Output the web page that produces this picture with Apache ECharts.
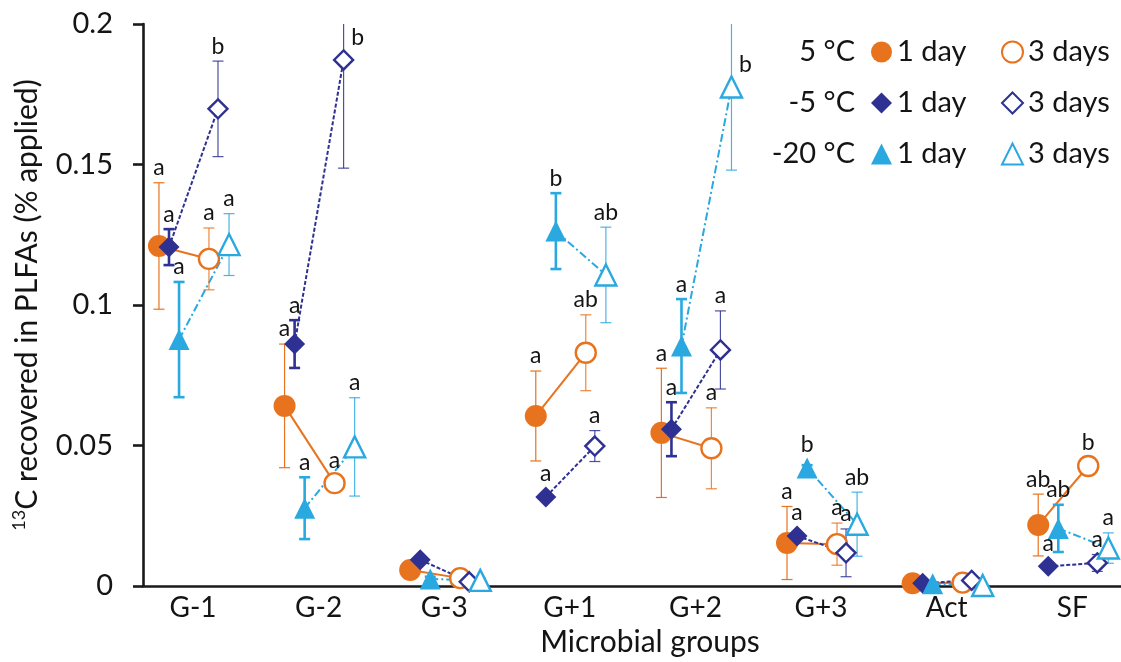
<!DOCTYPE html>
<html>
<head>
<meta charset="utf-8">
<script src="https://cdn.jsdelivr.net/npm/echarts@6/dist/echarts.min.js"></script>
<style>
html,body{margin:0;padding:0;background:#fff;}
#chart{width:1121px;height:662px;}
</style>
</head>
<body>
<div id="chart"></div>
<script>
// ---------------- data ----------------
const categories = ['G-1', 'G-2', 'G-3', 'G+1', 'G+2', 'G+3', 'Act', 'SF'];
const yTickStep = 0.05;
const yMax = 0.2;

// means (13C recovered in PLFAs, % applied)
const c5Day1  = [0.1210, 0.0641, 0.0057, 0.0605, 0.0545, 0.0153, 0.0010, 0.0217];
const c5Day3  = [0.1164, 0.0366, 0.0028, 0.0830, 0.0490, 0.0149, 0.0012, 0.0427];
const m5Day1  = [0.1206, 0.0861, 0.0093, 0.0317, 0.0558, 0.0178, 0.0010, 0.0070];
const m5Day3  = [0.1698, 0.1872, 0.0015, 0.0498, 0.0840, 0.0118, 0.0020, 0.0082];
const m20Day1 = [0.0877, 0.0277, 0.0025, 0.1263, 0.0854, 0.0420, 0.0008, 0.0205];
const m20Day3 = [0.1215, 0.0495, 0.0020, 0.1107, 0.1776, 0.0220, 0.0002, 0.0135];

// error bar half-widths
const c5Day1Err  = [0.0225, 0.0220, 0.0008, 0.0160, 0.0230, 0.0130, 0.0005, 0.0110];
const c5Day3Err  = [0.0110, 0.0020, 0.0008, 0.0135, 0.0144, 0.0075, 0.0005, 0.0015];
const m5Day1Err  = [0.0064, 0.0085, 0.0008, 0.0010, 0.0096, 0.0010, 0.0005, 0.0010];
const m5Day3Err  = [0.0170, 0.0385, 0.0008, 0.0055, 0.0139, 0.0085, 0.0005, 0.0030];
const m20Day1Err = [0.0205, 0.0110, 0.0008, 0.0135, 0.0167, 0.0010, 0.0005, 0.0084];
const m20Day3Err = [0.0110, 0.0175, 0.0008, 0.0170, 0.0296, 0.0114, 0.0005, 0.0054];

// significance letters
const c5Day1Sig  = ['a', 'a', '', 'a',  'a', 'a',  '', 'ab'];
const c5Day3Sig  = ['a', 'a', '', 'ab', 'a', 'a',  '', 'b'];
const m5Day1Sig  = ['a', 'a', '', 'a',  'a', 'a',  '', 'a'];
const m5Day3Sig  = ['b', 'b', '', 'a',  'a', 'a',  '', 'a'];
const m20Day1Sig = ['a', 'a', '', 'b',  'a', 'b',  '', 'ab'];
const m20Day3Sig = ['a', 'a', '', 'ab', 'b', 'ab', '', 'a'];

const temperatures = ['5 °C', '-5 °C', '-20 °C'];
const days = ['1 day', '3 days'];

// ---------------- style / layout ----------------
const ORANGE = '#E8731F', NAVY = '#2E3192', BLUE = '#2AA8E0';
const FONT = 'Lato';
const TXT = '#141414';

const groups = [
  {temp: 0, day: 0, mean: c5Day1,  err: c5Day1Err,  sig: c5Day1Sig,  color: ORANGE, symbol: 'circle',   size: 22, filled: true,  off: -0.271, barW: 1.2},
  {temp: 0, day: 1, mean: c5Day3,  err: c5Day3Err,  sig: c5Day3Sig,  color: ORANGE, symbol: 'circle',   size: 20, filled: false, off: 0.127,  barW: 1.2},
  {temp: 1, day: 0, mean: m5Day1,  err: m5Day1Err,  sig: m5Day1Sig,  color: NAVY,   symbol: 'diamond',  size: 21, filled: true,  off: -0.191, barW: 2.6},
  {temp: 1, day: 1, mean: m5Day3,  err: m5Day3Err,  sig: m5Day3Sig,  color: NAVY,   symbol: 'diamond',  size: 19, filled: false, off: 0.199,  barW: 1.2},
  {temp: 2, day: 0, mean: m20Day1, err: m20Day1Err, sig: m20Day1Sig, color: BLUE,   symbol: 'triangle', size: 21, filled: true,  off: -0.111, barW: 2.6},
  {temp: 2, day: 1, mean: m20Day3, err: m20Day3Err, sig: m20Day3Sig, color: BLUE,   symbol: 'triangle', size: 21, filled: false, off: 0.287,  barW: 1.2}
];
groups.forEach(g => { g.name = temperatures[g.temp] + ' ' + days[g.day]; });

const lineStyles = [
  {color: ORANGE, width: 2, type: 'solid'},
  {color: NAVY, width: 2, type: [4, 2]},
  {color: BLUE, width: 2, type: [8, 3, 2, 3]}
];

const series = [];

// connecting lines (1 day -> 3 days, per temperature, per category)
[0, 1, 2].forEach(t => {
  const g1 = groups.find(g => g.temp === t && g.day === 0);
  const g3 = groups.find(g => g.temp === t && g.day === 1);
  const ls = lineStyles[t];
  series.push({
    type: 'custom',
    name: 'line-' + t,
    z: 1,
    silent: true,
    encode: {x: [0, 2], y: [1, 3]},
    data: categories.map((c, i) => [i + 1 + g1.off, g1.mean[i], i + 1 + g3.off, g3.mean[i]]),
    renderItem: (params, api) => {
      const p1 = api.coord([api.value(0), api.value(1)]);
      const p2 = api.coord([api.value(2), api.value(3)]);
      return {
        type: 'line',
        shape: {x1: p1[0], y1: p1[1], x2: p2[0], y2: p2[1]},
        style: {stroke: ls.color, lineWidth: ls.width, lineDash: ls.type === 'solid' ? null : ls.type, fill: null}
      };
    }
  });
});

// error bars
groups.forEach((g, gi) => {
  series.push({
    type: 'custom',
    name: 'err-' + gi,
    z: 2,
    silent: true,
    encode: {x: 0, y: 1},
    data: g.mean.map((v, i) => [i + 1 + g.off, v, g.err[i]]),
    renderItem: (params, api) => {
      const x = api.value(0), v = api.value(1), e = api.value(2);
      const topV = v + e;
      const clipped = topV > yMax;
      const lo = api.coord([x, Math.max(v - e, 0)]);
      const hi = api.coord([x, Math.min(topV, yMax)]);
      const cw = 5.5;
      const st = {stroke: g.color, lineWidth: g.barW, opacity: g.filled ? 1 : 0.85};
      const ch = [
        {type: 'line', shape: {x1: lo[0], y1: lo[1], x2: hi[0], y2: hi[1]}, style: st},
        {type: 'line', shape: {x1: lo[0] - cw, y1: lo[1], x2: lo[0] + cw, y2: lo[1]}, style: st}
      ];
      if (!clipped) ch.push({type: 'line', shape: {x1: hi[0] - cw, y1: hi[1], x2: hi[0] + cw, y2: hi[1]}, style: st});
      return {type: 'group', children: ch};
    }
  });
});

// markers
groups.forEach(g => {
  series.push({
    type: 'scatter',
    name: g.name,
    z: 5,
    symbol: g.symbol,
    symbolSize: g.size,
    itemStyle: g.filled
      ? {color: g.color, opacity: 1}
      : {color: '#ffffff', borderColor: g.color, borderWidth: 2.4, opacity: 1},
    emphasis: {disabled: true},
    data: g.mean.map((v, i) => [i + 1 + g.off, v])
  });
});

// significance letters
groups.forEach((g, gi) => {
  series.push({
    type: 'custom',
    name: 'sig-' + gi,
    z: 8,
    silent: true,
    encode: {x: 0, y: 1},
    data: g.mean.map((v, i) => [i + 1 + g.off, v, g.err[i]]),
    renderItem: (params, api) => {
      const txt = g.sig[params.dataIndex];
      if (!txt) return null;
      const x = api.value(0), v = api.value(1), e = api.value(2);
      const pm = api.coord([x, v]);
      let px, py;
      if (v + e > yMax) {
        px = pm[0] + 14; py = pm[1] - 22;
      } else {
        const cap = api.coord([x, v + e]);
        px = pm[0];
        py = Math.min(cap[1], pm[1] - 8) - 15;
      }
      return {
        type: 'text',
        x: px, y: py,
        style: {text: txt, fill: TXT, font: '23px ' + FONT, align: 'center', verticalAlign: 'middle'}
      };
    }
  });
});

const legendFormatter = name => name.replace(/^.*°C /, '');
const legendText = {fontSize: 29, fontFamily: FONT, color: TXT, lineHeight: 30};
const legendData = day => groups.filter(g => g.day === day).map(g => ({name: g.name, icon: g.symbol}));

const option = {
  animation: false,
  backgroundColor: '#ffffff',
  grid: {left: 143, right: 0, top: 24, bottom: 76, containLabel: false},
  xAxis: {
    type: 'value',
    min: 0.602,
    max: 8.388,
    name: 'Microbial groups',
    nameLocation: 'middle',
    nameGap: 37,
    nameTextStyle: {fontSize: 30, fontFamily: FONT, color: TXT, padding: [0, 0, 0, 36]},
    axisLine: {show: true, lineStyle: {color: '#1a1a1a', width: 2.6}},
    axisTick: {show: false},
    splitLine: {show: false},
    axisLabel: {
      customValues: categories.map((c, i) => i + 1),
      formatter: v => categories[Math.round(v) - 1],
      fontSize: 28, fontFamily: FONT, color: TXT, margin: 8
    }
  },
  yAxis: {
    type: 'value',
    min: 0,
    max: yMax,
    interval: yTickStep,
    name: '{sup|13}C recovered in PLFAs (% applied)',
    nameLocation: 'middle',
    nameGap: 99,
    nameTextStyle: {
      fontSize: 30, fontFamily: FONT, color: TXT,
      rich: {sup: {fontSize: 18, fontFamily: FONT, color: TXT, verticalAlign: 'top', lineHeight: 34}}
    },
    axisLine: {show: true, lineStyle: {color: '#1a1a1a', width: 2.6}},
    axisTick: {show: true, inside: false, length: 10, lineStyle: {color: '#1a1a1a', width: 2.6}},
    splitLine: {show: false},
    axisLabel: {
      formatter: v => String(Math.round(v * 100) / 100),
      fontSize: 29, fontFamily: FONT, color: TXT, margin: 30
    }
  },
  legend: [
    {orient: 'vertical', left: 871, top: 37, itemWidth: 21, itemHeight: 21, itemGap: 21, padding: 0,
     selectedMode: false, formatter: legendFormatter, textStyle: legendText, data: legendData(0)},
    {orient: 'vertical', left: 1001, top: 37, itemWidth: 21, itemHeight: 21, itemGap: 21, padding: 0,
     selectedMode: false, formatter: legendFormatter, textStyle: legendText, data: legendData(1)}
  ],
  graphic: temperatures.map((t, i) => ({
    type: 'text',
    x: 855, y: 52 + i * 51,
    silent: true,
    style: {text: t, fill: TXT, font: '29px ' + FONT, align: 'right', verticalAlign: 'middle'}
  })),
  series: series
};

const chart = echarts.init(document.getElementById('chart'), null, {renderer: 'canvas'});
chart.setOption(option);
</script>
</body>
</html>
